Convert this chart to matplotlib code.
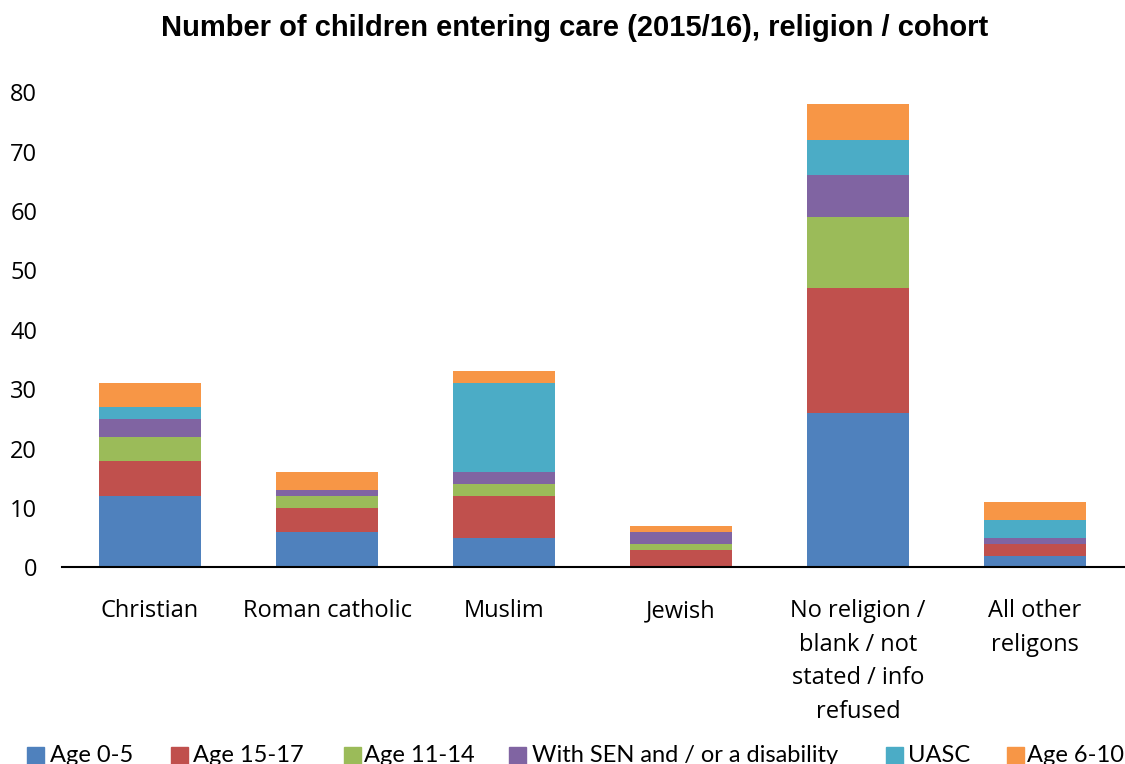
import numpy as np
import matplotlib.pyplot as plt
from matplotlib.patches import Rectangle

categories = ["Christian", "Roman catholic", "Muslim", "Jewish",
              "No religion /\nblank / not\nstated / info\nrefused",
              "All other\nreligons"]
series_names = ["Age 0-5", "Age 15-17", "Age 11-14",
                "With SEN and / or a disability", "UASC", "Age 6-10"]
age_0_5 = [12, 6, 5, 0, 26, 2]
age_15_17 = [6, 4, 7, 3, 21, 2]
age_11_14 = [4, 2, 2, 1, 12, 0]
sen_disability = [3, 1, 2, 2, 7, 1]
uasc = [2, 0, 15, 0, 6, 3]
age_6_10 = [4, 3, 2, 1, 6, 3]
colors = ["#4F81BD", "#C0504D", "#9BBB59", "#8064A2", "#4BACC6", "#F79646"]

series = [age_0_5, age_15_17, age_11_14, sen_disability, uasc, age_6_10]

fig = plt.figure(figsize=(11.25, 7.64), dpi=100)
ax = fig.add_axes([0.0547, 0.2572, 0.944, 0.622])

x = np.arange(len(categories))
bottom = np.zeros(len(categories))
for name, vals, c in zip(series_names, series, colors):
    ax.bar(x, vals, 0.576, bottom=bottom, color=c, label=name)
    bottom += np.array(vals)

ax.set_xlim(-0.5, len(categories) - 0.5)
ax.set_ylim(0, 80)
ax.set_yticks(range(0, 81, 10))
ax.set_xticks(x)
ax.set_xticklabels(categories, fontsize=17, family="Open Sans", linespacing=1.52, va="top")
ax.set_yticklabels([str(v) for v in range(0, 81, 10)], fontsize=17,
                   family="Open Sans", va="center_baseline")
ax.tick_params(axis="both", length=0)
ax.tick_params(axis="x", pad=23)
ax.tick_params(axis="y", pad=17.5)
for s in ["top", "right", "left"]:
    ax.spines[s].set_visible(False)
ax.spines["bottom"].set_linewidth(1.5)

fig.text(0.511, 1 - 28 / 764, "Number of children entering care (2015/16), religion / cohort",
         ha="center", va="center", fontsize=21, fontweight="bold", family="Liberation Sans")

# legend row along the bottom edge, one square + label per series
box_x = [27, 171, 344, 509, 886, 1007]
text_x = [50, 193, 364, 532, 908, 1027]
W, H = 1125, 764
for name, c, bx, tx in zip(series_names, colors, box_x, text_x):
    fig.add_artist(Rectangle((bx / W, 1 - 764 / H), 17 / W, 17 / H,
                             transform=fig.transFigure, color=c))
    fig.text(tx / W, 1 - 762 / H, name, ha="left", va="baseline",
             fontsize=17, family="Lato")

fig.savefig("out.png", dpi=100)
